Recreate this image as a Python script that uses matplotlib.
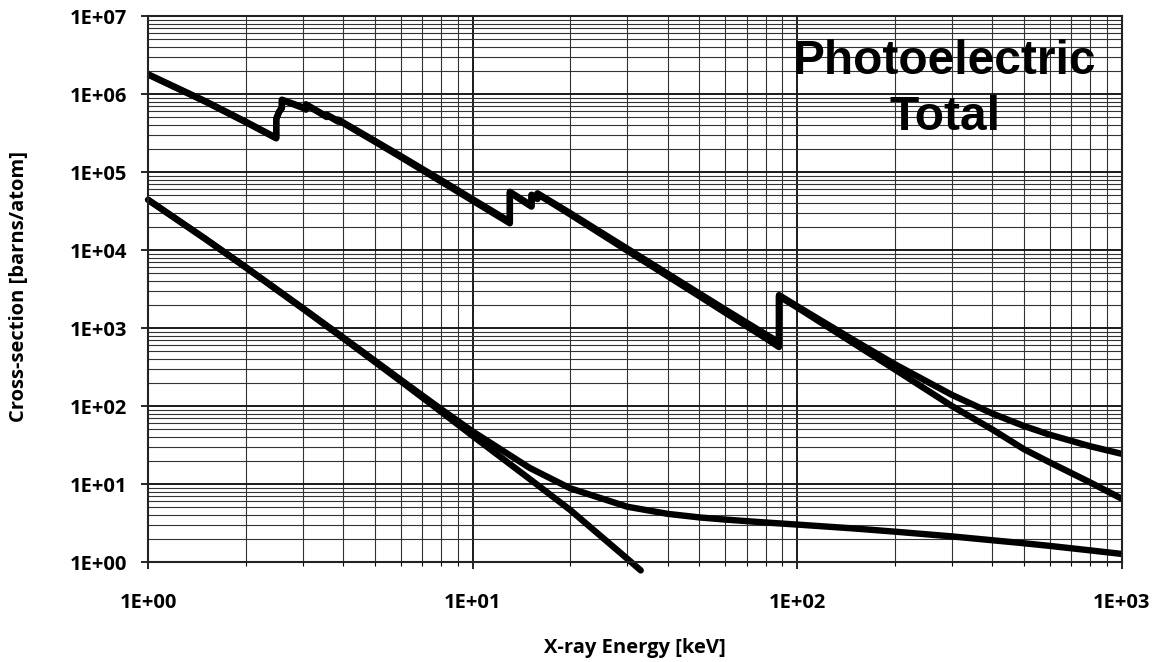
import numpy as np
import matplotlib.pyplot as plt
from matplotlib.ticker import LogLocator, FixedFormatter, FixedLocator, NullFormatter

# X-ray energies [keV] and cross-sections [barns/atom]
# heavy element (with M, L and K absorption edges)
energy_heavy = [1, 1.5, 2, 2.484, 2.484, 2.534, 2.586, 2.586, 3.0, 3.066, 3.066, 3.3,
                3.554, 3.554, 3.7, 3.851, 3.851, 4, 5, 6, 8, 10, 13.035, 13.035, 15,
                15.2, 15.2, 15.86, 15.86, 20, 30, 40, 50, 60, 80, 88.0, 88.0, 100, 150,
                200, 300, 400, 500, 600, 800, 1000]
total_heavy = [1.79e6, 8.11e5, 4.42e5, 2.75e5, 4.81e5, 5.94e5, 6.69e5, 8.46e5, 6.76e5,
               6.39e5, 7.38e5, 6.18e5, 5.15e5, 5.45e5, 4.96e5, 4.51e5, 4.71e5, 4.30e5,
               2.51e5, 1.61e5, 7.87e4, 4.49e4, 2.31e4, 5.58e4, 3.84e4, 3.71e4, 5.11e4,
               4.62e4, 5.33e4, 2.97e4, 1.04e4, 4.94e3, 2.77e3, 1.73e3, 832, 657, 2644,
               1909, 693, 344, 139, 80, 55.5, 42.9, 30.5, 24.4]
photo_heavy = [1.78e6, 8.0e5, 4.35e5, 2.7e5, 4.75e5, 5.85e5, 6.6e5, 8.35e5, 6.65e5,
               6.3e5, 7.28e5, 6.08e5, 5.06e5, 5.36e5, 4.87e5, 4.43e5, 4.63e5, 4.22e5,
               2.45e5, 1.56e5, 7.55e4, 4.3e4, 2.2e4, 5.46e4, 3.72e4, 3.6e4, 5.0e4,
               4.5e4, 5.21e4, 2.86e4, 9.8e3, 4.6e3, 2.56e3, 1.58e3, 740, 570, 2550,
               1840, 630, 295, 100, 50, 28, 19, 10.5, 6.5]

# light element
energy_light = [1, 1.5, 2, 3, 4, 5, 6, 8, 10, 15, 20, 30, 40, 50, 60, 80, 100, 150,
                200, 300, 400, 500, 600, 800, 1000]
total_light = [4.41e4, 1.40e4, 6030, 1800, 753, 381, 218, 91.2, 47.3, 16.1, 8.81, 5.11,
               4.14, 3.73, 3.50, 3.21, 3.02, 2.69, 2.45, 2.13, 1.90, 1.74, 1.61, 1.41, 1.27]
energy_light_photo = [1, 1.5, 2, 3, 4, 5, 6, 8, 10, 15, 20, 30, 33]
photo_light = [4.40e4, 1.39e4, 5980, 1770, 735, 368, 209, 84.5, 41.5, 11.6, 4.65, 1.1, 0.78]

x_ticks = [1, 10, 100, 1000]
x_tick_labels = ["1E+00", "1E+01", "1E+02", "1E+03"]
y_ticks = [1, 10, 100, 1e3, 1e4, 1e5, 1e6, 1e7]
y_tick_labels = ["1E+00", "1E+01", "1E+02", "1E+03", "1E+04", "1E+05", "1E+06", "1E+07"]

plt.rcParams['font.family'] = ['Open Sans', 'DejaVu Sans']

W, H = 1153, 662
fig = plt.figure(figsize=(W / 100, H / 100), dpi=100)
ax = fig.add_axes([148 / W, 1 - 562 / H, (1121.5 - 148) / W, (562 - 16) / H])

line_kw = dict(color='black', lw=4.6, solid_joinstyle='round', solid_capstyle='round')
ax.plot(energy_heavy, total_heavy, **line_kw)
ax.plot(energy_heavy, photo_heavy, **line_kw)
ax.plot(energy_light, total_light, **line_kw)
ax.plot(energy_light_photo, photo_light, clip_on=False, **line_kw)

ax.set_xscale('log')
ax.set_yscale('log')
ax.set_xlim(1, 1000)
ax.set_ylim(1, 1e7)

ax.xaxis.set_major_locator(FixedLocator(x_ticks))
ax.xaxis.set_major_formatter(FixedFormatter(x_tick_labels))
ax.xaxis.set_minor_locator(LogLocator(base=10, subs=np.arange(2, 10), numticks=20))
ax.xaxis.set_minor_formatter(NullFormatter())
ax.yaxis.set_major_locator(FixedLocator(y_ticks))
ax.yaxis.set_major_formatter(FixedFormatter(y_tick_labels))
ax.yaxis.set_minor_locator(LogLocator(base=10, subs=np.arange(2, 10), numticks=20))
ax.yaxis.set_minor_formatter(NullFormatter())

ax.grid(which='major', color='#1a1a1a', lw=1.4)
ax.grid(which='minor', color='#333333', lw=0.8)
ax.set_axisbelow(True)

ax.tick_params(axis='both', which='major', direction='out', length=5, width=1.2,
               labelsize=14.5)
ax.tick_params(axis='y', which='major', pad=10)
ax.tick_params(axis='x', which='major', pad=17)
ax.tick_params(axis='x', which='minor', direction='out', length=3, width=0.8)
ax.tick_params(axis='y', which='minor', length=0)
for lab in ax.get_xticklabels() + ax.get_yticklabels():
    lab.set_fontweight('bold')

for s in ax.spines.values():
    s.set_linewidth(1.5)
    s.set_color('#222222')

fig.text(635 / W, 1 - 648 / H, "X-ray Energy [keV]", fontsize=14.5, fontweight='bold',
         ha='center', va='center')
fig.text(19 / W, 1 - 287 / H, "Cross-section [barns/atom]", fontsize=14.5,
         fontweight='bold', rotation=90, ha='center', va='center')

fig.text(944 / W, 1 - 61 / H, "Photoelectric", fontsize=34.5, fontweight='bold',
         family='Liberation Sans', ha='center', va='center')
fig.text(945 / W, 1 - 117 / H, "Total", fontsize=34.5, fontweight='bold',
         family='Liberation Sans', ha='center', va='center')

fig.savefig("out.png", dpi=100)
